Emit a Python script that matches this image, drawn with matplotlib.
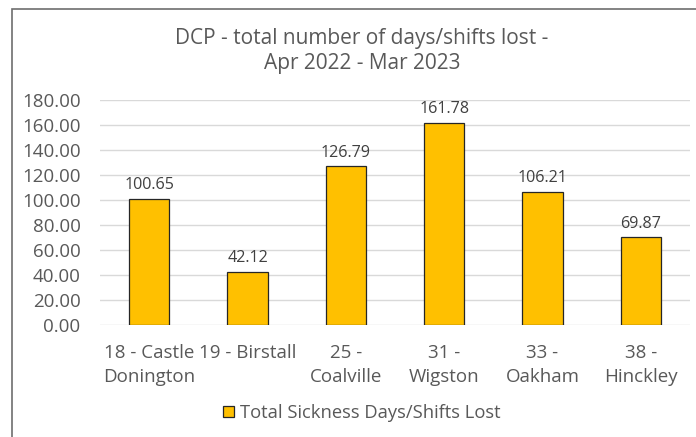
import matplotlib.pyplot as plt
from matplotlib.patches import Rectangle

plt.rcParams['font.family'] = ['Open Sans', 'DejaVu Sans']

stations = ["18 - Castle\nDonington", "19 - Birstall", "25 -\nCoalville",
            "31 -\nWigston", "33 -\nOakham", "38 -\nHinckley"]
days_lost = [100.65, 42.12, 126.79, 161.78, 106.21, 69.87]
yticks = [0, 20, 40, 60, 80, 100, 120, 140, 160, 180]

W, H = 696, 437
fig = plt.figure(figsize=(W / 100, H / 100), dpi=100)
ax = fig.add_axes([100 / W, 1 - 324.5 / H, 590 / W, 224.5 / H])

# chart frame (clipped at right/bottom like the reference)
fig.patches.append(Rectangle((12 / W, -0.1), 1.2, (1 - 9 / H) + 0.1,
                             transform=fig.transFigure, fill=False,
                             edgecolor="#6e6e6e", linewidth=1.2))

x = range(len(stations))
bars = ax.bar(x, days_lost, width=0.41, color="#FFC000", edgecolor="#262626",
              linewidth=0.9, zorder=3, label="Total Sickness Days/Shifts Lost")
for b, v in zip(bars, days_lost):
    ax.text(b.get_x() + b.get_width() / 2, v + 4.5, f"{v:.2f}", ha="center",
            va="bottom", fontsize=11.6, color="#404040")

ax.set_xlim(-0.5, len(stations) - 0.5)
ax.set_ylim(0, 180)
ax.set_yticks(yticks)
ax.set_yticklabels([f"{t:.2f}" for t in yticks], fontsize=13.5, color="#595959")
ax.set_xticks(list(x))
ax.set_xticklabels(stations, fontsize=13.5, color="#595959", linespacing=1.45)
ax.tick_params(axis="y", length=0, pad=14)
ax.tick_params(axis="x", length=0, pad=14)
ax.yaxis.grid(True, color="#d9d9d9", linewidth=1, zorder=0)
for s in ax.spines.values():
    s.set_visible(False)

fig.text(362 / W, 1 - 51 / H, "DCP - total number of days/shifts lost -\nApr 2022 - Mar 2023",
         ha="center", va="center", fontsize=15, color="#595959", linespacing=1.3)

fig.legend(loc="center", bbox_to_anchor=(362 / W, 1 - 413 / H), frameon=False,
           fontsize=13.2, labelcolor="#595959", handlelength=0.6, handleheight=0.6,
           handletextpad=0.3)

fig.savefig("out.png", dpi=100)
